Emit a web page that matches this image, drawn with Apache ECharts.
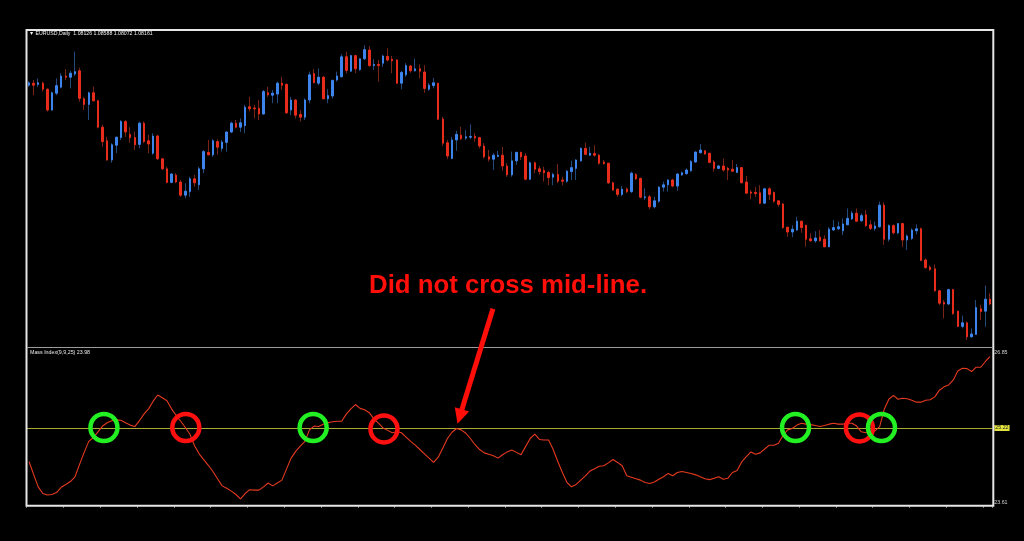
<!DOCTYPE html>
<html><head><meta charset="utf-8">
<script src="https://cdn.jsdelivr.net/npm/echarts@6/dist/echarts.min.js"></script>
<style>html,body{margin:0;padding:0;background:#000;}#c{width:1024px;height:541px;}</style>
</head><body><div id="c"></div>
<script>
// ---- EURUSD daily candles ----
const opens = [
1.1422,1.1427,1.1424,1.1427,1.1412,1.1360,1.1402,1.1417,1.1445,1.1442,
1.1450,1.1458,1.1388,1.1374,1.1403,1.1383,1.1317,1.1283,1.1235,1.1272,
1.1291,1.1331,1.1299,1.1291,1.1274,1.1327,1.1283,1.1252,1.1295,1.1238,
1.1213,1.1179,1.1197,1.1180,1.1147,1.1156,1.1188,1.1173,1.1213,1.1254,
1.1248,1.1281,1.1264,1.1279,1.1305,1.1327,1.1317,1.1321,1.1368,1.1365,
1.1364,1.1350,1.1403,1.1397,1.1400,1.1427,1.1424,1.1360,1.1385,1.1349,
1.1342,1.1385,1.1451,1.1427,1.1442,1.1388,1.1395,1.1435,1.1443,1.1493,
1.1457,1.1496,1.1461,1.1488,1.1510,1.1471,1.1474,1.1477,1.1494,1.1487,
1.1485,1.1427,1.1448,1.1470,1.1458,1.1463,1.1455,1.1412,1.1421,1.1427,
1.1337,1.1278,1.1239,1.1285,1.1297,1.1290,1.1292,1.1294,1.1291,1.1270,
1.1243,1.1237,1.1244,1.1247,1.1220,1.1198,1.1233,1.1254,1.1245,1.1187,
1.1228,1.1213,1.1209,1.1204,1.1192,1.1199,1.1185,1.1182,1.1206,1.1214,
1.1233,1.1264,1.1247,1.1251,1.1247,1.1230,1.1227,1.1178,1.1162,1.1149,
1.1162,1.1156,1.1199,1.1189,1.1141,1.1143,1.1118,1.1132,1.1167,1.1173,
1.1185,1.1170,1.1198,1.1201,1.1208,1.1230,1.1253,1.1258,1.1252,1.1230,
1.1214,1.1220,1.1214,1.1212,1.1204,1.1216,1.1180,1.1155,1.1154,1.1153,
1.1127,1.1163,1.1154,1.1133,1.1125,1.1067,1.1055,1.1060,1.1082,1.1072,
1.1038,1.1033,1.1042,1.1037,1.1018,1.1060,1.1063,1.1058,1.1073,1.1088,
1.1102,1.1083,1.1098,1.1073,1.1064,1.1068,1.1122,1.1037,1.1071,1.1053,
1.1076,1.1035,1.1039,1.1058,1.1063,1.0985,1.0967,1.0963,1.0908,1.0879,
1.0875,1.0911,1.0857,1.0819,1.0828,1.0793,1.0799,1.0863,1.0857,1.0887];
const highs = [
1.1432,1.1435,1.1439,1.1431,1.1414,1.1406,1.1439,1.1452,1.1462,1.1458,
1.1506,1.1466,1.1393,1.1406,1.1418,1.1385,1.1323,1.1293,1.1277,1.1293,
1.1335,1.1335,1.1317,1.1306,1.1331,1.1331,1.1298,1.1302,1.1298,1.1239,
1.1218,1.1202,1.1202,1.1185,1.1177,1.1193,1.1198,1.1218,1.1260,1.1285,
1.1287,1.1287,1.1285,1.1306,1.1331,1.1335,1.1339,1.1373,1.1393,1.1373,
1.1385,1.1410,1.1418,1.1410,1.1431,1.1443,1.1427,1.1393,1.1387,1.1360,
1.1389,1.1456,1.1462,1.1464,1.1445,1.1412,1.1436,1.1456,1.1500,1.1506,
1.1498,1.1498,1.1489,1.1522,1.1520,1.1487,1.1485,1.1498,1.1514,1.1495,
1.1487,1.1458,1.1477,1.1473,1.1488,1.1474,1.1472,1.1428,1.1440,1.1428,
1.1343,1.1285,1.1293,1.1308,1.1318,1.1310,1.1324,1.1302,1.1293,1.1277,
1.1260,1.1252,1.1258,1.1268,1.1227,1.1256,1.1256,1.1256,1.1252,1.1231,
1.1231,1.1220,1.1218,1.1208,1.1203,1.1225,1.1193,1.1210,1.1233,1.1237,
1.1267,1.1278,1.1268,1.1272,1.1250,1.1235,1.1228,1.1181,1.1164,1.1170,
1.1167,1.1206,1.1202,1.1191,1.1164,1.1148,1.1143,1.1170,1.1181,1.1187,
1.1188,1.1202,1.1206,1.1214,1.1235,1.1256,1.1275,1.1260,1.1253,1.1235,
1.1222,1.1239,1.1218,1.1235,1.1225,1.1217,1.1195,1.1160,1.1168,1.1172,
1.1165,1.1167,1.1156,1.1135,1.1127,1.1068,1.1072,1.1093,1.1083,1.1073,
1.1052,1.1057,1.1060,1.1047,1.1067,1.1085,1.1081,1.1089,1.1114,1.1108,
1.1114,1.1102,1.1110,1.1085,1.1081,1.1131,1.1129,1.1074,1.1074,1.1077,
1.1078,1.1049,1.1064,1.1074,1.1066,1.0989,1.0971,1.0974,1.0910,1.0885,
1.0913,1.0913,1.0858,1.0846,1.0831,1.0814,1.0885,1.0873,1.0921,1.0902];
const lows = [
1.1418,1.1397,1.1418,1.1406,1.1356,1.1358,1.1397,1.1414,1.1435,1.1414,
1.1445,1.1381,1.1360,1.1335,1.1381,1.1314,1.1268,1.1233,1.1228,1.1252,
1.1285,1.1293,1.1278,1.1260,1.1264,1.1277,1.1252,1.1248,1.1235,1.1210,
1.1177,1.1177,1.1177,1.1143,1.1139,1.1143,1.1168,1.1160,1.1202,1.1246,
1.1243,1.1248,1.1256,1.1256,1.1302,1.1314,1.1305,1.1302,1.1356,1.1339,
1.1335,1.1348,1.1393,1.1377,1.1377,1.1410,1.1350,1.1347,1.1339,1.1331,
1.1335,1.1377,1.1427,1.1422,1.1387,1.1377,1.1389,1.1431,1.1442,1.1452,
1.1456,1.1452,1.1458,1.1485,1.1468,1.1460,1.1431,1.1468,1.1481,1.1452,
1.1425,1.1412,1.1443,1.1453,1.1456,1.1439,1.1403,1.1408,1.1414,1.1335,
1.1270,1.1237,1.1237,1.1258,1.1285,1.1285,1.1287,1.1281,1.1264,1.1239,
1.1231,1.1210,1.1242,1.1208,1.1193,1.1193,1.1223,1.1235,1.1185,1.1185,
1.1202,1.1198,1.1181,1.1172,1.1172,1.1177,1.1172,1.1178,1.1185,1.1185,
1.1231,1.1247,1.1245,1.1243,1.1223,1.1223,1.1175,1.1158,1.1143,1.1145,
1.1152,1.1152,1.1185,1.1139,1.1135,1.1112,1.1114,1.1128,1.1156,1.1156,
1.1167,1.1158,1.1195,1.1198,1.1206,1.1228,1.1252,1.1248,1.1227,1.1206,
1.1212,1.1206,1.1185,1.1206,1.1203,1.1177,1.1150,1.1137,1.1143,1.1125,
1.1125,1.1135,1.1128,1.1118,1.1063,1.1043,1.1042,1.1058,1.1053,1.1018,
1.1031,1.1028,1.1031,1.1017,1.1017,1.1058,1.1060,1.1047,1.1072,1.1085,
1.1081,1.1081,1.1068,1.1060,1.1058,1.1066,1.1023,1.1031,1.1049,1.1049,
1.1018,1.1010,1.1035,1.1049,1.0982,1.0963,1.0958,1.0906,1.0872,1.0839,
1.0872,1.0848,1.0817,1.0814,1.0785,1.0791,1.0798,1.0835,1.0818,1.0872];
const closes = [
1.1428,1.1422,1.1428,1.1412,1.1360,1.1403,1.1421,1.1445,1.1442,1.1452,
1.1456,1.1389,1.1374,1.1403,1.1383,1.1317,1.1281,1.1235,1.1273,1.1292,
1.1331,1.1305,1.1291,1.1273,1.1327,1.1281,1.1275,1.1295,1.1238,1.1213,
1.1179,1.1200,1.1180,1.1147,1.1157,1.1188,1.1178,1.1213,1.1256,1.1248,
1.1283,1.1267,1.1280,1.1305,1.1327,1.1317,1.1328,1.1367,1.1363,1.1363,
1.1350,1.1406,1.1398,1.1402,1.1427,1.1422,1.1353,1.1385,1.1347,1.1342,
1.1385,1.1448,1.1428,1.1442,1.1388,1.1396,1.1434,1.1445,1.1493,1.1459,
1.1496,1.1463,1.1488,1.1511,1.1471,1.1474,1.1471,1.1495,1.1485,1.1483,
1.1427,1.1454,1.1471,1.1458,1.1463,1.1457,1.1414,1.1422,1.1428,1.1337,
1.1277,1.1245,1.1285,1.1299,1.1288,1.1293,1.1294,1.1290,1.1270,1.1243,
1.1237,1.1247,1.1247,1.1220,1.1198,1.1233,1.1254,1.1243,1.1187,1.1228,
1.1212,1.1206,1.1203,1.1191,1.1199,1.1182,1.1182,1.1207,1.1216,1.1235,
1.1264,1.1249,1.1252,1.1247,1.1227,1.1226,1.1178,1.1160,1.1149,1.1162,
1.1156,1.1202,1.1188,1.1142,1.1143,1.1118,1.1133,1.1167,1.1173,1.1185,
1.1170,1.1200,1.1203,1.1210,1.1231,1.1255,1.1260,1.1250,1.1229,1.1214,
1.1220,1.1210,1.1210,1.1207,1.1216,1.1178,1.1152,1.1152,1.1151,1.1127,
1.1163,1.1149,1.1132,1.1124,1.1066,1.1055,1.1062,1.1082,1.1066,1.1037,
1.1033,1.1040,1.1033,1.1018,1.1062,1.1066,1.1068,1.1075,1.1089,1.1102,
1.1082,1.1096,1.1071,1.1064,1.1070,1.1122,1.1037,1.1071,1.1053,1.1076,
1.1035,1.1045,1.1060,1.1063,1.0984,1.0966,1.0961,1.0908,1.0877,1.0875,
1.0911,1.0851,1.0819,1.0828,1.0793,1.0800,1.0866,1.0856,1.0887,1.0875];

// ---- Mass Index(9,9,25) ----
const massIndex = [
24.52,24.25,23.99,23.85,23.82,23.83,23.87,23.98,24.04,24.10,
24.20,24.46,24.71,24.94,25.02,25.14,25.26,25.33,25.37,25.39,
25.38,25.33,25.28,25.25,25.37,25.51,25.62,25.78,25.91,25.85,
25.79,25.62,25.48,25.36,25.23,25.09,24.85,24.68,24.56,24.44,
24.31,24.16,24.01,23.96,23.90,23.83,23.74,23.85,23.93,23.92,
23.92,23.99,24.07,24.01,24.07,24.13,24.36,24.59,24.73,24.84,
24.94,25.18,25.26,25.25,25.30,25.33,25.35,25.36,25.36,25.51,
25.62,25.71,25.63,25.60,25.54,25.41,25.32,25.22,25.17,25.12,
25.14,25.12,25.03,24.94,24.86,24.77,24.68,24.59,24.50,24.61,
24.80,25.00,25.13,25.21,25.18,25.11,25.00,24.87,24.77,24.70,
24.67,24.64,24.59,24.66,24.72,24.76,24.71,24.66,24.83,25.00,
25.09,24.98,24.97,24.97,24.77,24.52,24.29,24.08,23.99,24.04,
24.13,24.22,24.32,24.37,24.42,24.43,24.49,24.56,24.50,24.43,
24.22,24.19,24.16,24.13,24.08,24.06,24.09,24.15,24.20,24.27,
24.22,24.29,24.31,24.29,24.27,24.24,24.20,24.16,24.14,24.17,
24.20,24.15,24.17,24.29,24.33,24.51,24.62,24.72,24.67,24.70,
24.78,24.86,24.86,24.90,25.07,25.18,25.21,25.28,25.32,25.30,
25.29,25.27,25.25,25.27,25.30,25.32,25.30,25.30,25.32,25.32,
25.26,25.14,25.12,25.14,25.16,25.25,25.61,25.82,25.90,25.82,
25.84,25.83,25.80,25.76,25.76,25.80,25.81,25.87,26.01,26.08,
26.12,26.22,26.41,26.47,26.46,26.40,26.49,26.49,26.61,26.71];
const midLevel = 25.22;
const subScaleLabels = [23.61, 26.85];

// annotation anchors (bar index, indicator value)
const greenCircles = [[16.3, 25.23], [61.8, 25.23], [166.7, 25.23], [185.4, 25.23]];
const redCircles = [[34.1, 25.23], [77.2, 25.20], [180.6, 25.22]];
const arrowTail = [100.9, 27.71];
const arrowTip = [93.2, 25.31];

const headerText = '\u25BC EURUSD,Daily  1.08126 1.08588 1.08072 1.08161';
const subTitleText = 'Mass Index(9,9,25) 23.98';
const noteText = 'Did not cross mid-line.';

const bars = opens.map((_, i) => String(i + 1));
const fullCandles = opens.map((o, i) => [o, closes[i], lows[i], highs[i]]);
const bodyCandles = opens.map((o, i) => [o, closes[i], Math.min(o, closes[i]), Math.max(o, closes[i])]);

const GL = 26.7, GW = 965.6;
const chart = echarts.init(document.getElementById('c'));
chart.setOption({
  backgroundColor: '#000',
  animation: false,
  title: [
    {text: headerText, left: 29, top: 31, padding: 0, textStyle: {color: '#f0f0f0', fontSize: 5.2, fontWeight: 'normal', fontFamily: 'Liberation Sans'}},
    {text: subTitleText, left: 30, top: 350, padding: 0, textStyle: {color: '#e8e8e8', fontSize: 5.3, fontWeight: 'normal', fontFamily: 'Liberation Sans'}},
    {text: noteText, left: 369, top: 273, padding: 0, textStyle: {color: '#ff0e0a', fontSize: 25.8, fontWeight: 'bold', fontFamily: 'Liberation Sans'}}
  ],
  grid: [
    {left: GL, top: 31, width: GW, height: 316},
    {left: GL, top: 350, width: GW, height: 155}
  ],
  xAxis: [
    {type: 'category', gridIndex: 0, data: bars, show: false},
    {type: 'category', gridIndex: 1, data: bars, axisLine: {show: false},
     axisTick: {show: true, interval: 7, length: 3, lineStyle: {color: '#777'}},
     axisLabel: {show: false}, splitLine: {show: false}},
    {type: 'value', gridIndex: 1, min: -0.5, max: bars.length - 0.5, show: false}
  ],
  yAxis: [
    {type: 'value', gridIndex: 0, min: 1.07675, max: 1.15575, show: false},
    {type: 'value', gridIndex: 1, min: subScaleLabels[0], max: subScaleLabels[1], position: 'right',
     axisLine: {show: false}, axisTick: {show: false}, splitLine: {show: false},
     axisLabel: {customValues: subScaleLabels, formatter: v => v.toFixed(2), color: '#d0d0d0',
       fontSize: 5.3, margin: 2, fontFamily: 'Liberation Sans',
       verticalAlignMinLabel: 'bottom', verticalAlignMaxLabel: 'top'}}
  ],
  series: [
    {type: 'candlestick', xAxisIndex: 0, yAxisIndex: 0, data: fullCandles, silent: true,
     barWidth: 1, barMinWidth: 1,
     itemStyle: {color: '#24497c', color0: '#7a2418', borderColor: '#24497c', borderColor0: '#7a2418', borderWidth: 1}},
    {type: 'candlestick', xAxisIndex: 0, yAxisIndex: 0, data: bodyCandles, silent: true,
     barWidth: 2, barMinWidth: 1,
     itemStyle: {color: '#3d84ec', color0: '#e82c1c', borderColor: '#3d84ec', borderColor0: '#e82c1c', borderWidth: 1}},
    {type: 'line', xAxisIndex: 1, yAxisIndex: 1, data: massIndex, symbol: 'none', silent: true, z: 3,
     lineStyle: {color: '#e63a20', width: 1.1},
     markLine: {silent: true, symbol: 'none', z: 2,
       lineStyle: {color: '#a9a934', width: 1.2, type: 'solid'},
       label: {position: 'end', formatter: midLevel.toFixed(2), distance: 2, color: '#222',
         backgroundColor: '#e2e23c', padding: [1, 1, 0, 1], fontSize: 5.3, fontFamily: 'Liberation Sans'},
       data: [{yAxis: midLevel}]}},
    {type: 'scatter', xAxisIndex: 2, yAxisIndex: 1, data: redCircles, symbol: 'circle', symbolSize: 27,
     silent: true, clip: false, z: 5,
     itemStyle: {color: 'rgba(0,0,0,0)', borderColor: '#ff1010', borderWidth: 4.5, opacity: 1}},
    {type: 'scatter', xAxisIndex: 2, yAxisIndex: 1, data: greenCircles, symbol: 'circle', symbolSize: 27,
     silent: true, clip: false, z: 6,
     itemStyle: {color: 'rgba(0,0,0,0)', borderColor: '#22f022', borderWidth: 4.5, opacity: 1}}
  ]
});

// frame + arrow annotation
const tail = chart.convertToPixel({seriesIndex: 4}, arrowTail);
const tip = chart.convertToPixel({seriesIndex: 4}, arrowTip);
const dx = tip[0] - tail[0], dy = tip[1] - tail[1];
const len = Math.sqrt(dx * dx + dy * dy);
const ux = dx / len, uy = dy / len, px = -uy, py = ux;
const headL = 15, headW = 7.5;
const bx = tip[0] - ux * headL, by = tip[1] - uy * headL;
chart.setOption({
  graphic: [
    {type: 'rect', z: 10, silent: true, shape: {x: 26.5, y: 30, width: 966.8, height: 475.7},
     style: {fill: 'none', stroke: '#e6e6e6', lineWidth: 2}},
    {type: 'line', z: 10, silent: true, shape: {x1: 27, y1: 347.5, x2: 993, y2: 347.5},
     style: {stroke: '#9c9c9c', lineWidth: 1}},
    {type: 'line', z: 20, silent: true, shape: {x1: tail[0], y1: tail[1], x2: bx + ux * 2, y2: by + uy * 2},
     style: {stroke: '#ff0e0a', lineWidth: 5}},
    {type: 'polygon', z: 20, silent: true,
     shape: {points: [[tip[0], tip[1]], [bx + px * headW, by + py * headW], [bx - px * headW, by - py * headW]]},
     style: {fill: '#ff0e0a'}}
  ]
});
</script>
</body></html>
